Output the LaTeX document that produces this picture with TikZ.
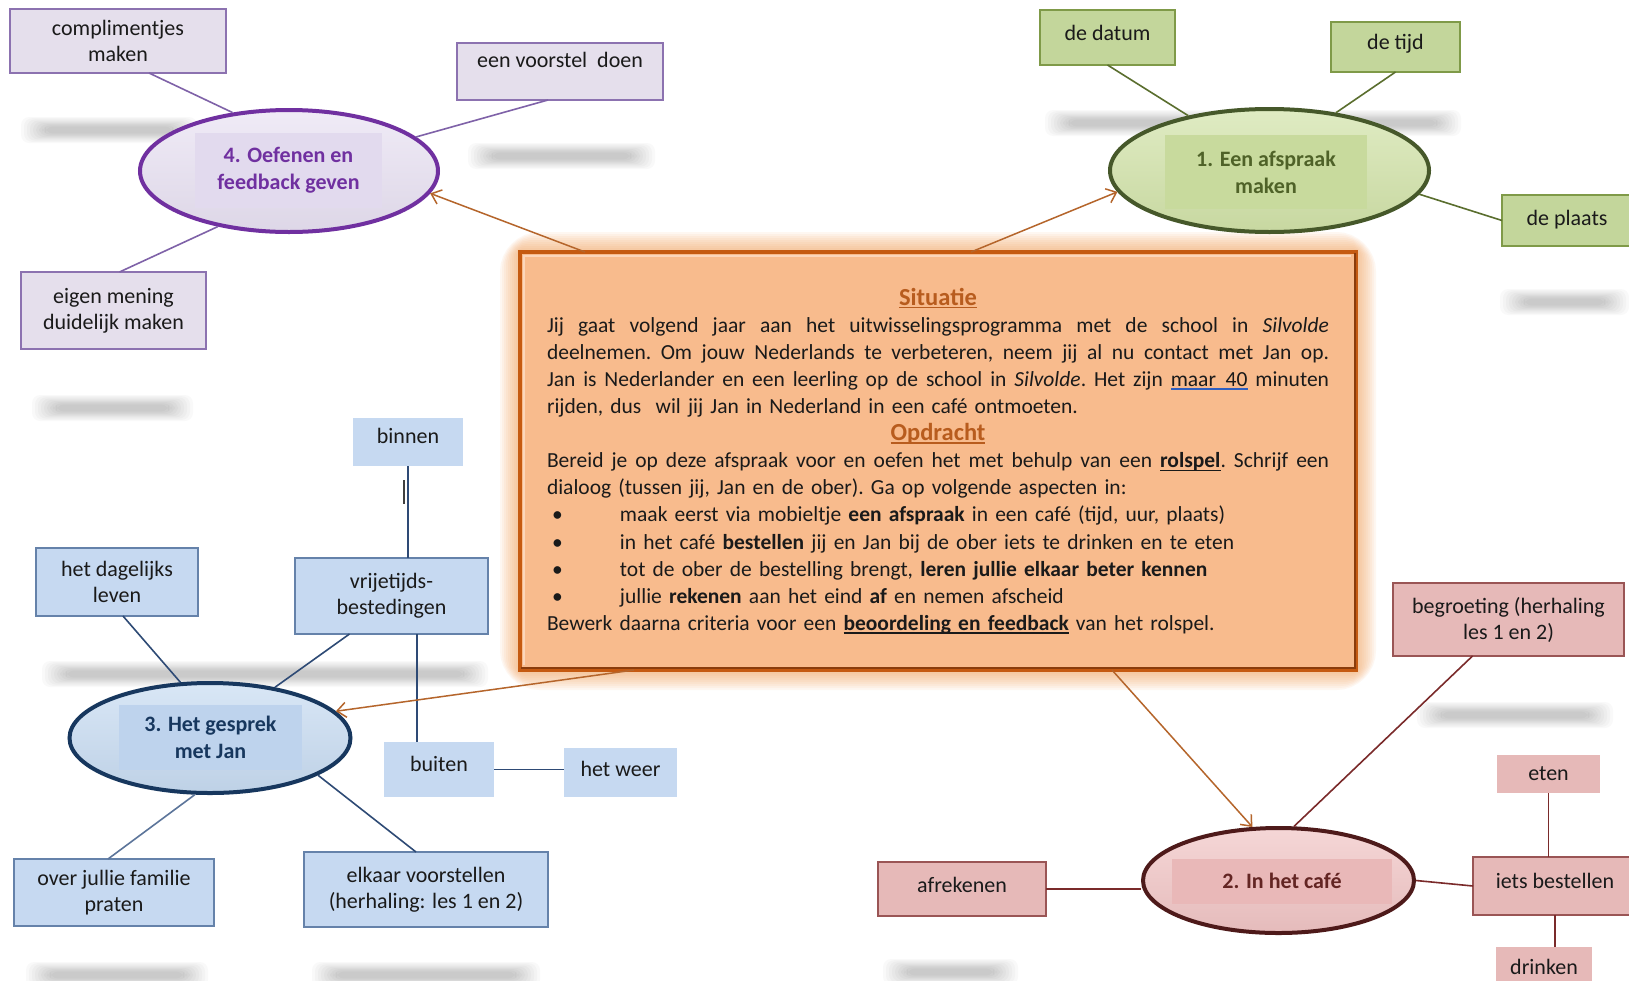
\documentclass[tikz,border=0pt]{standalone}
\usepackage{fontspec}
\setmainfont{Carlito}
\usepackage{tikz}
\usetikzlibrary{arrows.meta, backgrounds, shapes.geometric, calc, positioning}

\definecolor{purplefill}{HTML}{E9E2F3}
\definecolor{purpleinner}{HTML}{E2DAEE}
\definecolor{purpleedge}{HTML}{7030A0}
\definecolor{purplebox}{HTML}{E5DFEC}
\definecolor{purpleboxedge}{HTML}{8C72B0}
\definecolor{purpleline}{HTML}{7F62A8}
\definecolor{greenfill}{HTML}{D2E3A9}
\definecolor{greeninner}{HTML}{C8DA9D}
\definecolor{greenedge}{HTML}{46582A}
\definecolor{greentext}{HTML}{4F6228}
\definecolor{greenbox}{HTML}{C3D69B}
\definecolor{greenboxedge}{HTML}{7F9A48}
\definecolor{greenline}{HTML}{5A6E2E}
\definecolor{bluefill}{HTML}{C8DCF2}
\definecolor{blueinner}{HTML}{BED3ED}
\definecolor{blueedge}{HTML}{17375E}
\definecolor{bluetext}{HTML}{17375E}
\definecolor{bluebox}{HTML}{C6D9F1}
\definecolor{blueboxedge}{HTML}{6582AA}
\definecolor{blueline}{HTML}{2E4A75}
\definecolor{pinkfill}{HTML}{F1C5C5}
\definecolor{pinkinner}{HTML}{E9B8B8}
\definecolor{pinkedge}{HTML}{4E1A1A}
\definecolor{pinktext}{HTML}{632523}
\definecolor{pinkbox}{HTML}{E6B9B8}
\definecolor{pinkboxedge}{HTML}{9A5555}
\definecolor{pinkline}{HTML}{7A2A2A}
\definecolor{taskfill}{HTML}{F8BB8D}
\definecolor{taskedge}{HTML}{C55A11}
\definecolor{taskdark}{HTML}{8A3C0C}
\definecolor{headc}{HTML}{B85C1E}
\definecolor{glowc}{HTML}{F39A50}
\definecolor{arrowc}{HTML}{B5652B}
\definecolor{spellblue}{HTML}{2F5FC0}
\definecolor{inktext}{HTML}{1A1A1A}

\newcommand\wordul[1]{\setbox0\hbox{#1}\rlap{\rule[-3.2pt]{\wd0}{1.4pt}}\box0\relax}
\newcommand\spellul[1]{\setbox0\hbox{#1}{\color{spellblue}\rlap{\rule[-3.6pt]{\wd0}{1.6pt}}}\box0\relax}
\newcommand\taskhead[1]{{\fontsize{24.5}{27.1}\selectfont\textcolor{headc}{\textbf{\wordul{#1}}}}}
\newcommand\justline[1]{\leavevmode\hbox to 782pt{\spaceskip=0.226em plus 2em minus 0.08em\relax #1}}
\newcommand\graysmudge[3]{%
    \foreach \s in {0,...,8}{%
        \fill[black, opacity=0.022, rounded corners=8pt] ({#1+\s*3},{#3-13+\s*1.2}) rectangle ({#2-\s*3},{#3+13-\s*1.2});
    }%
}

\tikzset{
    leaf/.style={rectangle, align=center, inner sep=2pt, outer sep=0pt, line width=1.2pt,
        text=inktext, font=\fontsize{22}{26}\selectfont},
    purpleleaf/.style={leaf, fill=purplebox, draw=purpleboxedge},
    greenleaf/.style={leaf, fill=greenbox, draw=greenboxedge},
    blueleaf/.style={leaf, fill=bluebox, draw=blueboxedge},
    bluebare/.style={leaf, fill=bluebox},
    pinkleaf/.style={leaf, fill=pinkbox, draw=pinkboxedge},
    pinkbare/.style={leaf, fill=pinkbox},
    lifted/.style={text depth=#1},
    topic/.style={ellipse, line width=4pt, inner sep=0pt},
    topiclabel/.style={rectangle, inner sep=0pt, align=center, font=\fontsize{22}{27}\selectfont\bfseries},
    twig/.style={line width=1.6pt},
    taskarrow/.style={arrowc, line width=1.5pt, -{Straight Barb[length=9pt, width=15pt]}},
    taskbox/.style={rectangle, fill=taskfill, draw=taskedge, line width=4.5pt, outer sep=0pt,
        inner sep=27pt, align=left, text=inktext, font=\fontsize{21.5}{27.1}\selectfont\frenchspacing}
}

\begin{document}
\begin{tikzpicture}[x=1pt, y=-1pt]
    \useasboundingbox (0,0) rectangle (1629,980);

    % the task in the middle
    \node[taskbox, minimum width=836pt, minimum height=418pt, text width=782pt] (sit) at (938,461) {%
        \makebox[782pt]{\taskhead{Situatie}}\\
        \justline{Jij gaat volgend jaar aan het uitwisselingsprogramma met de school in \textit{Silvolde}}\\
        \justline{deelnemen. Om jouw Nederlands te verbeteren, neem jij al nu contact met Jan op.}\\
        \justline{Jan is Nederlander en een leerling op de school in \textit{Silvolde}. Het zijn \spellul{maar\hspace{0.45em}40} minuten}\\
        rijden, dus\ \ wil jij Jan in Nederland in een café ontmoeten.\\
        \makebox[782pt]{\taskhead{Opdracht}}\\
        \justline{Bereid je op deze afspraak voor en oefen het met behulp van een \textbf{\wordul{rolspel}}. Schrijf een}\\
        dialoog (tussen jij, Jan en de ober). Ga op volgende aspecten in:\\
        \makebox[73pt][l]{\hspace{5pt}•}maak eerst via mobieltje \textbf{een afspraak} in een café (tijd, uur, plaats)\\
        \makebox[73pt][l]{\hspace{5pt}•}in het café \textbf{bestellen} jij en Jan bij de ober iets te drinken en te eten\\
        \makebox[73pt][l]{\hspace{5pt}•}tot de ober de bestelling brengt, \textbf{leren jullie elkaar beter kennen}\\
        \makebox[73pt][l]{\hspace{5pt}•}jullie \textbf{rekenen} aan het eind \textbf{af} en nemen afscheid\\
        Bewerk daarna criteria voor een \textbf{\wordul{beoordeling en feedback}} van het rolspel.};
    \draw[taskdark, line width=2.5pt] ([xshift=1pt, yshift=2pt]sit.south west) -- ([xshift=-1pt, yshift=2pt]sit.south east)
        -- ([xshift=-1pt, yshift=-1pt]sit.north east);
    \draw[taskfill!60!white, line width=2pt] ([xshift=4pt, yshift=5pt]sit.south west) -- ([xshift=4pt, yshift=-4pt]sit.north west)
        -- ([xshift=-5pt, yshift=-4pt]sit.north east);

    % the four topics
    \node[topic, top color=purplefill!70!white, bottom color=purplefill!95!black, draw=purpleedge,
        minimum width=298pt, minimum height=122pt] (oefenen) at (289,171) {};
    \node[topiclabel, fill=purpleinner, text=purpleedge, minimum width=187pt, minimum height=75pt]
        (oefenenTxt) at (288.5,170.5) {4. Oefenen en\\feedback geven};
    \node[topic, top color=greenfill!70!white, bottom color=greenfill!95!black, draw=greenedge,
        minimum width=319pt, minimum height=123pt] (afspraak) at (1269.5,170.5) {};
    \node[topiclabel, fill=greeninner, text=greentext, minimum width=202pt, minimum height=74pt]
        (afspraakTxt) at (1266,172) {1. Een afspraak\\maken};
    \node[topic, top color=bluefill!70!white, bottom color=bluefill!95!black, draw=blueedge,
        minimum width=281pt, minimum height=110pt] (gesprek) at (210,738) {};
    \node[topiclabel, fill=blueinner, text=bluetext, minimum width=183pt, minimum height=65pt]
        (gesprekTxt) at (210.5,737.5) {3. Het gesprek\\met Jan};
    \node[topic, top color=pinkfill!70!white, bottom color=pinkfill!95!black, draw=pinkedge,
        minimum width=271pt, minimum height=105pt] (cafe) at (1278.5,880.5) {};
    \node[topiclabel, fill=pinkinner, text=pinktext, minimum width=220pt, minimum height=45pt]
        (cafeTxt) at (1282,881) {2. In het café};

    % 4. oefenen
    \node[purpleleaf, minimum width=216pt, minimum height=64pt] (compl) at (118,41) {complimentjes\\maken};
    \node[purpleleaf, minimum width=206pt, minimum height=57pt, lifted=24pt] (voorstel) at (560,71.5) {een voorstel\ \ doen};
    \node[purpleleaf, minimum width=185pt, minimum height=77pt] (mening) at (113.5,310.5) {eigen mening\\duidelijk maken};
    \draw[twig, purpleline] ([xshift=31pt]compl.south) -- (oefenen.134.5);
    \draw[twig, purpleline] ([xshift=-12pt]voorstel.south) -- (oefenen.15);
    \draw[twig, purpleline] ([xshift=6pt]mening.north) -- (oefenen.218);

    % 1. afspraak
    \node[greenleaf, minimum width=135pt, minimum height=55pt, lifted=10pt] (datum) at (1107.5,37.5) {de datum};
    \node[greenleaf, minimum width=129pt, minimum height=50pt, lifted=10pt] (tijd) at (1395.5,47) {de tijd};
    \node[greenleaf, minimum width=130pt, minimum height=51pt, lifted=6pt] (plaats) at (1567,220.5) {de plaats};
    \draw[twig, greenline] (datum.south) -- (afspraak.146.7);
    \draw[twig, greenline] (tijd.south) -- (afspraak.41.8);
    \draw[twig, greenline] (plaats.west) -- (afspraak.-9.4);

    % 3. gesprek
    \node[blueleaf, minimum width=162pt, minimum height=68pt] (dagelijks) at (117,582) {het dagelijks\\leven};
    \node[blueleaf, minimum width=193pt, minimum height=76pt] (vrije) at (391.5,596) {vrijetijds-\\bestedingen};
    \node[bluebare, minimum width=110pt, minimum height=48pt, lifted=12pt] (binnen) at (408,442) {binnen};
    \node[bluebare, minimum width=110pt, minimum height=55pt, lifted=12pt] (buiten) at (439,769.5) {buiten};
    \node[bluebare, minimum width=113pt, minimum height=49pt, lifted=8pt] (weer) at (620.5,772.5) {het weer};
    \node[blueleaf, minimum width=200pt, minimum height=67pt] (familie) at (114,892.5) {over jullie familie\\praten};
    \node[blueleaf, minimum width=244pt, minimum height=75pt] (kennis) at (426,889.5) {elkaar voorstellen\\(herhaling: les 1 en 2)};
    \draw[twig, blueline] ([xshift=6pt]dagelijks.south) -- (gesprek.118.5);
    \draw[twig, blueline] ([xshift=-42pt]vrije.south) -- (gesprek.38.8);
    \draw[twig, blueline] (binnen.south) -- (binnen.south |- vrije.north);
    \draw[twig, blueline] ([xshift=25.5pt]vrije.south) -- ([xshift=-22pt]buiten.north);
    \draw[twig, blueline] (buiten.east) -- (buiten.east -| weer.west);
    \draw[twig, blueline!70!bluebox] ([xshift=-6pt]familie.north) -- (gesprek.255);
    \draw[twig, blueline] ([xshift=-10pt]kennis.north) -- (gesprek.-19.5);
    \draw[line width=2.5pt, black!75] (404,480) -- (404,504);

    % 2. cafe
    \node[pinkleaf, minimum width=168pt, minimum height=54pt, lifted=8pt] (afrekenen) at (962,889) {afrekenen};
    \node[pinkleaf, minimum width=231pt, minimum height=73pt] (begroeting) at (1508.5,619.5) {begroeting (herhaling\\les 1 en 2)};
    \node[pinkbare, minimum width=103pt, minimum height=38pt] (eten) at (1548.5,774) {eten};
    \node[pinkleaf, minimum width=164pt, minimum height=58pt, lifted=10pt] (iets) at (1555,886) {iets bestellen};
    \node[pinkbare, minimum width=96pt, minimum height=44pt, lifted=4pt] (drinken) at (1544,969) {drinken};
    \draw[twig, pinkline] (afrekenen.east) -- (afrekenen.east -| cafe.west);
    \draw[twig, pinkline] ([xshift=-36pt]begroeting.south) -- (cafe.74);
    \draw[twig, pinkline] (iets.west) -- (cafe.east);
    \draw[twig, pinkline] (eten.south) -- (eten.south |- iets.north);
    \draw[twig, pinkline] (iets.south) -- (iets.south |- drinken.north);

    % arrows from the task
    \draw[taskarrow] ([xshift=65pt]sit.north west) -- (oefenen.-9);
    \draw[taskarrow] ([xshift=33pt]sit.north) -- (afspraak.188.6);
    \draw[taskarrow] ([xshift=114pt]sit.south west) -- (gesprek.12.5);
    \draw[taskarrow] ([xshift=174pt]sit.south) -- (cafe.116);

    \begin{scope}[on background layer]
        \fill[white] (0,0) rectangle (1629,980);
        \graysmudge{21}{197}{130}
        \graysmudge{468}{655}{156}
        \graysmudge{1045}{1461}{123}
        \graysmudge{1500}{1629}{302}
        \graysmudge{32}{193}{408}
        \graysmudge{42}{488}{674}
        \graysmudge{1417}{1613}{715}
        \graysmudge{26}{208}{975}
        \graysmudge{312}{540}{975}
        \graysmudge{883}{1018}{972}
        \foreach \g in {1,...,10}
            \draw[glowc, opacity=0.075, line width=\g*4pt, rounded corners=\g*2pt] (sit.north west) rectangle (sit.south east);
    \end{scope}
\end{tikzpicture}
\end{document}
